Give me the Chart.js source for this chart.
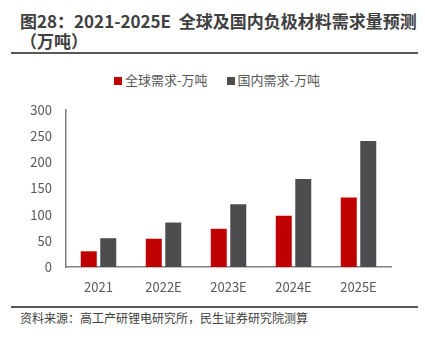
<!DOCTYPE html>
<html>
<head>
<meta charset="utf-8">
<script src="https://cdn.jsdelivr.net/npm/chart.js@4/dist/chart.umd.min.js"></script>
<style>
  body { margin: 0; width: 425px; height: 340px; background: #fff; position: relative; overflow: hidden;
         font-family: "Noto Sans CJK SC", "Noto Sans", sans-serif; }
  #title { position: absolute; left: 20px; top: 11px; font-size: 17px; font-weight: bold; color: #404040; line-height: 20px; }
  .rule { position: absolute; left: 11px; width: 407px; height: 2px; background: #595959; }
  #legend { position: absolute; top: 70px; left: 114px; font-size: 13px; color: #595959; white-space: nowrap; }
  #legend span.item { display: inline-block; }
  #legend i { display: inline-block; width: 8px; height: 8px; margin-right: 3px; vertical-align: 0px; }
  #wrap { position: absolute; left: 0; top: 60px; width: 425px; height: 240px; }
  #source { position: absolute; left: 20px; top: 309px; font-size: 12px; color: #404040; }
</style>
</head>
<body>
<div id="title">图28：2021-2025E&nbsp; 全球及国内负极材料需求量预测<br>（万吨）</div>
<div class="rule" style="top:52px"></div>
<div id="legend"></div>
<div id="wrap"><canvas id="chart"></canvas></div>
<div class="rule" style="top:306px"></div>
<div id="source">资料来源：高工产研锂电研究所，民生证券研究院测算</div>
<script>
const years = ["2021", "2022E", "2023E", "2024E", "2025E"];
const globalDemand = [30, 54, 73, 98, 133];
const domesticDemand = [55, 85, 120, 168, 241];
const seriesNames = ["全球需求-万吨", "国内需求-万吨"];
const seriesColors = ["#C00000", "#4D4D4F"];
const yTicks = [0, 50, 100, 150, 200, 250, 300];

const legend = document.getElementById("legend");
seriesNames.forEach((name, i) => {
  const item = document.createElement("span");
  item.className = "item";
  item.style.marginRight = i === 0 ? "19px" : "0";
  item.innerHTML = `<i style="background:${seriesColors[i]}"></i>${name}`;
  legend.appendChild(item);
});

const tickFont = { family: '"Noto Sans CJK SC", "Noto Sans", sans-serif', size: 13 };

new Chart(document.getElementById("chart").getContext("2d"), {
  type: 'bar',
  data: {
    labels: years,
    datasets: [
      { label: seriesNames[0], data: globalDemand, backgroundColor: seriesColors[0] },
      { label: seriesNames[1], data: domesticDemand, backgroundColor: seriesColors[1] }
    ]
  },
  options: {
    responsive: true,
    maintainAspectRatio: false,
    animation: false,
    layout: { padding: { top: 50, right: 34, left: 0, bottom: 0 } },
    datasets: { bar: { categoryPercentage: 0.6, barPercentage: 0.82 } },
    plugins: { legend: { display: false }, tooltip: { enabled: false } },
    scales: {
      x: {
        grid: { display: false, drawTicks: false },
        border: { display: true, color: '#808080', width: 1.5 },
        ticks: { color: '#595959', font: tickFont, padding: 12, maxRotation: 0 },
        afterFit: s => { s.height = 33; }
      },
      y: {
        min: 0, max: 300,
        grid: { display: false, drawTicks: false },
        border: { display: true, color: '#808080', width: 1.5 },
        ticks: { color: '#595959', font: tickFont, padding: 14, stepSize: 50,
                 callback: v => yTicks.includes(v) ? v : '' },
        afterFit: s => { s.width = 66; }
      }
    }
  }
});
</script>
</body>
</html>
